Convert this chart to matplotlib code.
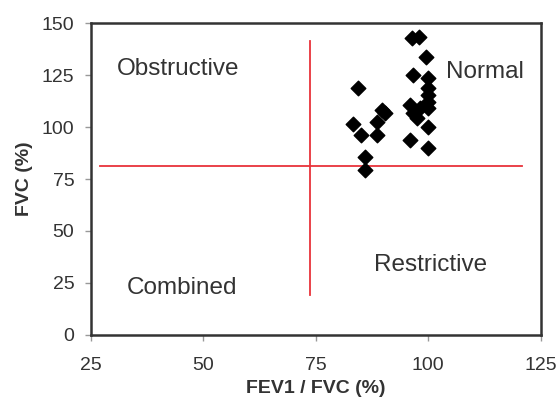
import matplotlib
matplotlib.use("Agg")
import matplotlib.pyplot as plt

# FEV1/FVC (%) vs FVC (%) readings
fev1_fvc = [84.4, 89.7, 90.3, 88.5, 83.3, 85.1, 88.5, 85.9, 85.9,
            96.3, 97.9, 99.6, 96.6, 99.9, 99.9, 99.9, 99.9, 99.9,
            95.9, 96.6, 98.1, 97.4, 99.9, 95.9, 99.9]
fvc = [118.6, 108.0, 106.7, 102.5, 101.7, 96.2, 96.2, 85.7, 79.3,
       142.6, 143.4, 133.8, 125.0, 123.4, 118.7, 115.4, 112.0, 109.1,
       110.6, 106.6, 109.0, 104.2, 100.2, 93.8, 89.8]

# quadrant cut-offs
cut_x = 73.7
cut_x_span = (19.2, 141.3)
cut_y = 81.3
cut_y_span = (27.0, 120.8)

region_labels = ["Obstructive", "Normal", "Combined", "Restrictive"]
region_pos = [(44.3, 125.0), (112.6, 123.6), (45.3, 19.7), (100.4, 30.8)]

x_ticks = [25, 50, 75, 100, 125]
y_ticks = [0, 25, 50, 75, 100, 125, 150]

plt.rcParams["font.family"] = ["Liberation Sans", "DejaVu Sans"]

fig = plt.figure(figsize=(5.58, 4.05), dpi=100)
ax = fig.add_axes([0.163, 0.173, 0.806, 0.770])

ax.plot([cut_x, cut_x], cut_x_span, color="#e8333a", linewidth=1.3)
ax.plot(cut_y_span, [cut_y, cut_y], color="#e8333a", linewidth=1.3)

ax.scatter(fev1_fvc, fvc, marker="D", s=55, color="black", zorder=3)

for text, (tx, ty) in zip(region_labels, region_pos):
    ax.text(tx, ty, text, fontsize=17.5, color="#333333", ha="center", va="baseline")

ax.set_xlim(25, 125)
ax.set_ylim(0, 150)
ax.set_xticks(x_ticks)
ax.set_yticks(y_ticks)
ax.tick_params(direction="out", length=4, width=1, color="#999999",
               labelsize=14, labelcolor="#333333")
ax.tick_params(axis="x", pad=12)
ax.tick_params(axis="y", pad=8)

for spine in ax.spines.values():
    spine.set_linewidth(1.8)
    spine.set_color("#333333")

ax.set_xlabel("FEV1 / FVC (%)", fontsize=14, fontweight="bold", color="#333333", labelpad=4)
ax.set_ylabel("FVC (%)", fontsize=14, fontweight="bold", color="#333333", labelpad=6)

fig.savefig("out.png", dpi=100)
